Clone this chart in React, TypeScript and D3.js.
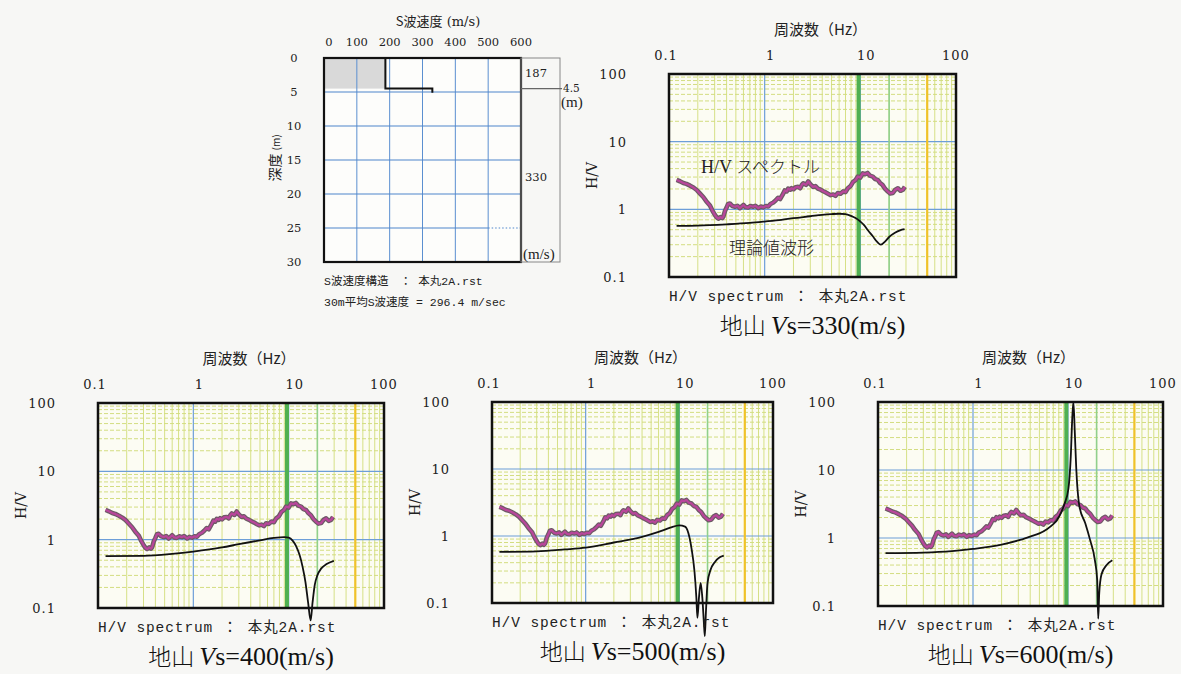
import React from 'react';
import * as d3 from 'd3';

type Pt = [number, number];

// frequency / H/V axis ticks
const FREQ_TICKS = [0.1, 1, 10, 100];
const FREQ_TICK_LABELS = ['0.1', '1', '10', '100'];
const HV_TICKS = [100, 10, 1, 0.1];
const HV_TICK_LABELS = ['100', '10', '1', '0.1'];
const MARK_GREEN = 9.6; // thick green marker
const MARK_GREEN_THIN = 20;
const MARK_YELLOW = 50;

// observed H/V spectrum (same in all panels)
const spectrum: Pt[] = [
  [0.12, 2.72], [0.13, 2.6], [0.141, 2.45], [0.152, 2.38], [0.166, 2.24], [0.18, 2.1],
  [0.195, 1.93], [0.21, 1.72], [0.228, 1.52], [0.245, 1.32], [0.268, 1.14], [0.285, 0.95],
  [0.303, 0.82], [0.315, 0.76], [0.328, 0.73], [0.345, 0.77], [0.36, 0.74], [0.37, 0.78],
  [0.385, 0.95], [0.4, 1.06], [0.415, 1.2], [0.433, 1.22], [0.46, 1.12], [0.49, 1.09],
  [0.52, 1.13], [0.55, 1.04], [0.575, 1.1], [0.6, 1.16], [0.63, 1.08], [0.67, 1.06],
  [0.71, 1.12], [0.76, 1.09], [0.8, 1.13], [0.86, 1.04], [0.91, 1.1], [0.97, 1.07],
  [1.03, 1.12], [1.09, 1.1], [1.15, 1.2], [1.23, 1.26], [1.3, 1.35], [1.38, 1.48],
  [1.45, 1.42], [1.56, 1.7], [1.62, 1.9], [1.7, 1.84], [1.76, 2.02], [1.85, 1.95],
  [1.91, 2.06], [2.0, 1.98], [2.1, 2.12], [2.24, 2.15], [2.35, 2.05], [2.45, 2.3],
  [2.53, 2.42], [2.7, 2.3], [2.85, 2.58], [3.0, 2.35], [3.2, 2.15], [3.4, 2.2],
  [3.6, 2.03], [3.85, 1.95], [4.1, 1.85], [4.35, 1.78], [4.6, 1.7], [4.9, 1.62],
  [5.2, 1.66], [5.5, 1.58], [5.8, 1.74], [6.2, 1.7], [6.6, 1.84], [7.0, 1.8],
  [7.4, 2.05], [7.9, 2.2], [8.4, 2.55], [8.9, 2.7], [9.4, 3.05], [10.0, 2.95],
  [10.6, 3.4], [11.2, 3.3], [11.9, 3.45], [12.6, 3.15], [13.5, 3.05], [14.3, 2.8],
  [15.2, 2.72], [16.1, 2.45], [17.1, 2.28], [18.2, 2.0], [19.4, 1.83], [20.5, 1.72],
  [21.9, 1.75], [23.2, 1.95], [24.7, 2.05], [26.3, 1.88], [27.9, 1.95], [29.2, 2.15],
];

// theoretical H/V curves for each bedrock Vs
const theory330: Pt[] = [
  [0.12, 0.57], [0.2, 0.575], [0.4, 0.6], [0.7, 0.63], [1, 0.66], [1.5, 0.7], [2, 0.74],
  [3, 0.79], [4, 0.83], [5, 0.85], [6, 0.86], [7, 0.85], [8, 0.8], [9, 0.74], [10, 0.66],
  [11, 0.58], [12, 0.49], [13.5, 0.4], [15, 0.33], [16.4, 0.3], [18, 0.33], [20, 0.39],
  [23, 0.45], [26, 0.49], [29, 0.51],
];
const theory400: Pt[] = [
  [0.12, 0.575], [0.3, 0.58], [0.6, 0.62], [1, 0.67], [2, 0.77], [3, 0.86], [5, 0.98],
  [7, 1.06], [9, 1.09], [10, 1.07], [11, 0.97], [12, 0.8], [13, 0.6], [14, 0.4],
  [15, 0.24], [16, 0.12], [17, 0.066], [17.8, 0.12], [18.8, 0.22], [20, 0.3], [22, 0.38],
  [25, 0.44], [29.8, 0.49],
];
const theory500: Pt[] = [
  [0.12, 0.58], [0.3, 0.59], [0.6, 0.63], [1, 0.67], [2, 0.8], [4, 0.97], [6, 1.15],
  [8, 1.33], [10, 1.44], [11.5, 1.38], [12.5, 1.1], [13.5, 0.65], [14.5, 0.3], [15.2, 0.12],
  [15.6, 0.06], [16.2, 0.12], [16.9, 0.2], [17.6, 0.12], [18.3, 0.05], [18.7, 0.032],
  [19.2, 0.07], [20, 0.2], [21.5, 0.31], [24, 0.41], [27, 0.48], [29.8, 0.51],
];
const theory600: Pt[] = [
  [0.12, 0.6], [0.3, 0.61], [0.6, 0.64], [1, 0.69], [2, 0.8], [3, 0.92], [4, 1.05],
  [5, 1.17], [6, 1.35], [7, 1.6], [7.6, 1.8], [8.5, 2.4], [9.2, 3.2], [10.1, 5.3],
  [10.7, 16], [11.1, 60], [11.4, 100], [11.8, 35], [12.2, 11], [13.2, 2.9], [15.2, 1.65],
  [17.1, 0.93], [19.2, 0.47], [20.3, 0.24], [20.8, 0.065], [21.3, 0.15], [22.5, 0.29],
  [25.5, 0.4], [29.3, 0.47],
];

// S-wave velocity structure
const VEL_TICKS = [0, 100, 200, 300, 400, 500, 600];
const DEPTH_TICKS = [0, 5, 10, 15, 20, 25, 30];
const LAYER_DEPTH = 4.5;
const LAYER1_VS = 187;
const LAYER2_VS = 330;

const SERIF = "'DejaVu Serif','Noto Sans CJK JP',serif";
const TIMES = "'Liberation Serif','Noto Sans CJK JP',serif";
const MONO = "'Liberation Mono','Noto Sans CJK JP',monospace";
const CJK = "'Noto Sans CJK JP',sans-serif";

interface PanelProps {
  left: number; top: number; w: number; h: number;
  theory: Pt[]; vs: number; annotate?: boolean;
}

const HVPanel: React.FC<PanelProps> = ({ left, top, w, h, theory, vs, annotate }) => {
  const x = d3.scaleLog().domain([0.1, 100]).range([left, left + w]);
  const y = d3.scaleLog().domain([0.1, 100]).range([top + h, top]);

  const minors: number[] = [];
  [0.1, 1, 10].forEach(d => { for (let k = 2; k <= 9; k++) minors.push(d * k); });

  const line = d3.line<Pt>().x(d => x(d[0])).y(d => y(d[1]));
  const smooth = d3.line<Pt>().x(d => x(d[0])).y(d => y(d[1])).curve(d3.curveMonotoneX);

  return (
    <g>
      <rect x={left} y={top} width={w} height={h} fill="#fcfcf3" />
      {/* minor grid */}
      {minors.map(v => (
        <line key={'vx' + v} x1={x(v)} x2={x(v)} y1={top} y2={top + h} stroke="#d6e086" strokeWidth={1} />
      ))}
      {minors.map(v => (
        <line key={'hy' + v} x1={left} x2={left + w} y1={y(v)} y2={y(v)} stroke="#d3dd80" strokeWidth={1} strokeDasharray="4,2" />
      ))}
      {/* decade lines */}
      {[1, 10].map(v => (
        <line key={'bx' + v} x1={x(v)} x2={x(v)} y1={top} y2={top + h} stroke="#6d9ed8" strokeWidth={1.2} />
      ))}
      {[1, 10].map(v => (
        <line key={'by' + v} x1={left} x2={left + w} y1={y(v)} y2={y(v)} stroke="#6d9ed8" strokeWidth={1.2} />
      ))}
      <line x1={x(MARK_GREEN)} x2={x(MARK_GREEN)} y1={top} y2={top + h} stroke="#4fb052" strokeWidth={4} />
      <line x1={x(MARK_GREEN_THIN)} x2={x(MARK_GREEN_THIN)} y1={top} y2={top + h} stroke="#90d08c" strokeWidth={1.6} />
      <line x1={x(MARK_YELLOW)} x2={x(MARK_YELLOW)} y1={top} y2={top + h} stroke="#f0c229" strokeWidth={2.2} />
      <rect x={left} y={top} width={w} height={h} fill="none" stroke="#111" strokeWidth={2.5} />

      {/* spectrum */}
      <path d={line(spectrum) || ''} fill="none" stroke="#6e5a66" strokeWidth={4.6} strokeLinejoin="round" />
      <path d={line(spectrum) || ''} fill="none" stroke="#b9469b" strokeWidth={2.2} strokeLinejoin="round" />
      {/* theoretical */}
      <path d={smooth(theory) || ''} fill="none" stroke="#111" strokeWidth={1.8} />

      {/* axes text */}
      <text x={left + w / 2 + 8} y={top - 39} textAnchor="middle" fontFamily={CJK} fontSize={15} fill="#222">周波数（Hz）</text>
      {FREQ_TICKS.map((t, i) => (
        <text key={'fx' + t} x={x(t) + (i === 0 ? -3 : i === 3 ? 0 : 6)} y={top - 14} textAnchor="middle"
          fontFamily={SERIF} fontSize={13} letterSpacing={1} fill="#222">{FREQ_TICK_LABELS[i]}</text>
      ))}
      {HV_TICKS.map((t, i) => (
        <text key={'hv' + t} x={left - 42} y={y(t) + 5} textAnchor="end"
          fontFamily={SERIF} fontSize={13} letterSpacing={1} fill="#222">{HV_TICK_LABELS[i]}</text>
      ))}
      <text transform={`translate(${left - 72},${top + h / 2}) rotate(-90)`} textAnchor="middle"
        fontFamily={SERIF} fontSize={14} fill="#222">H/V</text>
      <text x={left} y={top + h + 24} fontFamily={MONO} fontSize={14.5} letterSpacing={0.9} fill="#222">H/V spectrum ： 本丸2A.rst</text>
      <text x={left + w / 2} y={top + h + 57} textAnchor="middle" fontFamily={TIMES} fontSize={26} fill="#111">
        <tspan fontFamily={CJK} fontSize={23} fontWeight={300}>地山 </tspan>
        <tspan fontStyle="italic">V</tspan>s={vs}(m/s)
      </text>

      {annotate && (
        <g>
          <text x={left + 32} y={top + 99} fontFamily={TIMES} fontSize={18} fill="#222">
            H/V <tspan fontFamily={CJK} fontSize={17} fontWeight={300}>スペクトル</tspan>
          </text>
          <text x={left + 60} y={top + 180} fontFamily={CJK} fontSize={17} fontWeight={300} fill="#222">理論値波形</text>
        </g>
      )}
    </g>
  );
};

const VelocityProfile: React.FC = () => {
  const left = 324, top = 58, w = 197, h = 204;
  const x = d3.scaleLinear().domain([0, 600]).range([left, left + w]);
  const y = d3.scaleLinear().domain([0, 30]).range([top, top + h]);
  const sideR = 560;

  const profile: Pt[] = [[LAYER1_VS, 0], [LAYER1_VS, LAYER_DEPTH], [LAYER2_VS, LAYER_DEPTH], [LAYER2_VS, 5.1]];
  const pl = d3.line<Pt>().x(d => x(d[0])).y(d => y(d[1]));

  return (
    <g>
      <rect x={left} y={top} width={w} height={h} fill="#fdfdfb" />
      <rect x={x(0)} y={y(0)} width={x(LAYER1_VS) - x(0)} height={y(LAYER_DEPTH) - y(0)} fill="#d9d9d9" />
      {VEL_TICKS.slice(1, -1).map(v => (
        <line key={'v' + v} x1={x(v)} x2={x(v)} y1={top} y2={top + h} stroke="#5b8fd0" strokeWidth={1} />
      ))}
      {DEPTH_TICKS.slice(1, -1).map(d => (
        <line key={'d' + d} x1={left} x2={d === 25 ? x(500) : left + w} y1={y(d)} y2={y(d)} stroke="#4f86cc" strokeWidth={1.2} />
      ))}
      <line x1={x(500)} x2={left + w} y1={y(25)} y2={y(25)} stroke="#4f86cc" strokeWidth={1.2} strokeDasharray="1.5,2" />
      <path d={pl(profile) || ''} fill="none" stroke="#111" strokeWidth={2} />
      <rect x={left} y={top} width={w} height={h} fill="none" stroke="#111" strokeWidth={2.2} />

      {/* side column */}
      <rect x={left + w} y={top} width={sideR - left - w} height={h} fill="none" stroke="#888" strokeWidth={1} />
      <line x1={left + w} x2={sideR + 2} y1={y(LAYER_DEPTH)} y2={y(LAYER_DEPTH)} stroke="#666" strokeWidth={1.2} />
      <text x={left + w + 4} y={y(LAYER_DEPTH / 2) + 4} fontFamily={SERIF} fontSize={11.5} fill="#222">{LAYER1_VS}</text>
      <text x={left + w + 4} y={y(17.5) + 4} fontFamily={SERIF} fontSize={11.5} fill="#222">{LAYER2_VS}</text>
      <text x={sideR + 3} y={y(LAYER_DEPTH) + 3} fontFamily={SERIF} fontSize={10.5} fill="#222">{LAYER_DEPTH}</text>
      <text x={sideR + 1} y={y(LAYER_DEPTH) + 18} fontFamily={TIMES} fontSize={15} fill="#222">(m)</text>
      <text x={left + w + 2} y={top + h - 3} fontFamily={TIMES} fontSize={15} fill="#222">(m/s)</text>

      {/* axes */}
      <text x={438} y={26} textAnchor="middle" fontFamily={SERIF} fontSize={13} fill="#222">
        <tspan fontFamily={CJK}>S波速度</tspan> (m/s)
      </text>
      {VEL_TICKS.map(v => (
        <text key={'vt' + v} x={x(v) + (v === 0 ? 5 : 0)} y={46} textAnchor="middle" fontFamily={SERIF} fontSize={11.5} fill="#222">{v}</text>
      ))}
      {DEPTH_TICKS.map(d => (
        <text key={'dt' + d} x={294} y={y(d) + 4} textAnchor="middle" fontFamily={SERIF} fontSize={11.5} fill="#222">{d}</text>
      ))}
      <text transform={`translate(280,${top + 100}) rotate(-90)`} textAnchor="middle" fontFamily={CJK} fontSize={14} fill="#222">
        深度 <tspan fontSize={10}>(m)</tspan>
      </text>
      <text x={left} y={285} fontFamily={MONO} fontSize={11.5} fill="#222">S波速度構造　： 本丸2A.rst</text>
      <text x={left} y={306} fontFamily={MONO} fontSize={11.5} fill="#222">30m平均S波速度 = 296.4 m/sec</text>
    </g>
  );
};

export default function App() {
  return (
    <svg width={1181} height={674} style={{ position: 'absolute', left: 0, top: 0, background: '#f7f7f5' }}>
      <rect x={0} y={0} width={1181} height={674} fill="#f7f7f5" />
      <VelocityProfile />
      <HVPanel left={669} top={74} w={287} h={203} theory={theory330} vs={330} annotate />
      <HVPanel left={98} top={403} w={286} h={205} theory={theory400} vs={400} />
      <HVPanel left={492} top={402} w={281} h={201} theory={theory500} vs={500} />
      <HVPanel left={878} top={402} w={285} h={204} theory={theory600} vs={600} />
    </svg>
  );
}
